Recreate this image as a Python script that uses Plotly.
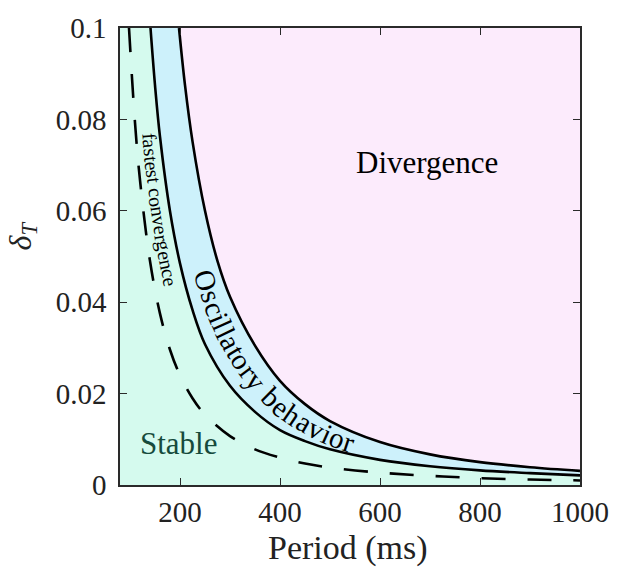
import numpy as np
import plotly.graph_objects as go

# ---------------- data ----------------
X_RANGE = [80, 1000]
Y_RANGE = [0, 0.1]
x_ticks = [200, 400, 600, 800, 1000]
y_ticks = [0, 0.02, 0.04, 0.06, 0.08, 0.1]
y_ticktext = ["0", "0.02", "0.04", "0.06", "0.08", "0.1"]

# fastest convergence (dashed)
period_fast = [98, 110, 120, 140, 160, 180, 200, 225, 250, 300, 350, 400, 450, 500, 600, 700, 800, 900, 1000]
delta_fast = [0.1, 0.0793, 0.0667, 0.049, 0.0375, 0.0296, 0.024, 0.019, 0.0154, 0.0107, 0.0078,
              0.006, 0.0047, 0.0038, 0.0027, 0.002, 0.0015, 0.0012, 0.001]

# stable / oscillatory boundary
period_osc = [141, 150, 160, 180, 200, 225, 250, 300, 350, 400, 450, 500, 600, 700, 800, 900, 1000]
delta_osc = [0.1, 0.0875, 0.0762, 0.0599, 0.0485, 0.0383, 0.0308, 0.0217, 0.016, 0.012, 0.0096,
             0.0078, 0.0055, 0.0041, 0.0032, 0.0026, 0.0021]

# oscillatory / divergence boundary
period_div = [198, 210, 225, 250, 275, 300, 350, 400, 450, 500, 600, 700, 800, 900, 1000]
delta_div = [0.1, 0.0875, 0.0752, 0.06, 0.049, 0.0412, 0.0305, 0.0228, 0.0177, 0.014, 0.0094,
             0.0067, 0.005, 0.0039, 0.0031]

# ---------------- layout geometry ----------------
W, H = 621, 569
ML, MR, MT, MB = 120, 36, 20, 84
PW, PH = W - ML - MR, H - MT - MB
FONT = "Liberation Serif, Times New Roman, serif"

C_STABLE = "#d5faee"
C_OSC = "#cdf1fb"
C_DIV = "#fcebfc"


def to_px(x, y):
    px = ML + (np.asarray(x) - X_RANGE[0]) / (X_RANGE[1] - X_RANGE[0]) * PW
    py = MT + (Y_RANGE[1] - np.asarray(y)) / (Y_RANGE[1] - Y_RANGE[0]) * PH
    return px, py


def to_data(px, py):
    x = X_RANGE[0] + (px - ML) / PW * (X_RANGE[1] - X_RANGE[0])
    y = Y_RANGE[1] - (py - MT) / PH * (Y_RANGE[1] - Y_RANGE[0])
    return x, y


def curve_at_x(xq, xs, ys):
    return np.exp(np.interp(np.log(xq), np.log(xs), np.log(ys)))


def curve_at_y(yq, xs, ys):
    lx = np.log(xs)[::-1]
    ly = np.log(ys)[::-1]
    return np.exp(np.interp(np.log(yq), ly, lx))


CW = {"f": .333, "a": .444, "s": .389, "t": .278, "e": .444, " ": .25, "c": .444, "o": .5,
      "n": .5, "v": .5, "r": .333, "g": .5, "O": .722, "i": .278, "l": .278, "y": .5,
      "b": .5, "h": .5}


def place_along(text, size, pxs, pys, s_start, color="black", spacing=1.0):
    d = np.hypot(np.diff(pxs), np.diff(pys))
    s = np.concatenate([[0], np.cumsum(d)])
    anns = []
    pos = s_start
    for ch in text:
        w = CW.get(ch, 0.5) * size * spacing
        c = pos + w / 2
        if ch != " ":
            cx, cy = np.interp(c, s, pxs), np.interp(c, s, pys)
            x1, y1 = np.interp(c + 3, s, pxs), np.interp(c + 3, s, pys)
            x0, y0 = np.interp(c - 3, s, pxs), np.interp(c - 3, s, pys)
            ang = float(np.degrees(np.arctan2(y1 - y0, x1 - x0)))
            xd, yd = to_data(cx, cy)
            anns.append(dict(x=float(xd), y=float(yd), xref="x", yref="y", text=ch,
                             textangle=ang, showarrow=False, xanchor="center",
                             yanchor="middle", font=dict(family=FONT, size=size, color=color)))
        pos += w
    return anns


fig = go.Figure()

# filled regions
fig.add_trace(go.Scatter(
    x=[X_RANGE[0]] + period_div + [X_RANGE[1], X_RANGE[0]],
    y=[Y_RANGE[1]] + delta_div + [Y_RANGE[0], Y_RANGE[0]],
    fill="toself", fillcolor=C_OSC, mode="none", hoverinfo="skip", showlegend=False))
fig.add_trace(go.Scatter(
    x=[X_RANGE[0]] + period_osc + [X_RANGE[1], X_RANGE[0]],
    y=[Y_RANGE[1]] + delta_osc + [Y_RANGE[0], Y_RANGE[0]],
    fill="toself", fillcolor=C_STABLE, mode="none", hoverinfo="skip", showlegend=False))

# boundary lines
for xs, ys, dash in [(period_div, delta_div, "solid"), (period_osc, delta_osc, "solid"),
                     (period_fast, delta_fast, "24px,22px")]:
    fig.add_trace(go.Scatter(x=xs, y=ys, mode="lines", line_shape="spline",
                             line=dict(color="black", width=2.6, dash=dash),
                             showlegend=False, hoverinfo="skip"))

annotations = []

# "Oscillatory behavior" along the band midline
xg = np.linspace(period_div[0], X_RANGE[1], 800)
ymid = 0.5 * (curve_at_x(xg, period_osc, delta_osc) + curve_at_x(xg, period_div, delta_div))
pxs, pys = to_px(xg, ymid)
d = np.hypot(np.diff(pxs), np.diff(pys))
s = np.concatenate([[0], np.cumsum(d)])
s0 = float(np.interp(204, pxs, s))
annotations += place_along("Oscillatory behavior", 29, pxs, pys, s0, spacing=1.03)

# "fastest convergence" between dashed and inner curves
yg = np.linspace(Y_RANGE[1], 0.01, 800)
xm = 0.45 * curve_at_y(yg, period_fast, delta_fast) + 0.55 * curve_at_y(yg, period_osc, delta_osc)
pxs2, pys2 = to_px(xm, yg)
d2 = np.hypot(np.diff(pxs2), np.diff(pys2))
s2 = np.concatenate([[0], np.cumsum(d2)])
s20 = float(np.interp(127, pys2, s2))
annotations += place_along("fastest convergence", 20, pxs2, pys2, s20)

div_x, div_y = to_data(430, 157)
annotations.append(dict(x=float(div_x), y=float(div_y), xref="x", yref="y", text="Divergence",
                        showarrow=False, xanchor="center", yanchor="middle",
                        font=dict(family=FONT, size=31, color="black")))
st_x, st_y = to_data(180, 443)
annotations.append(dict(x=float(st_x), y=float(st_y), xref="x", yref="y", text="Stable",
                        showarrow=False, xanchor="center", yanchor="middle",
                        font=dict(family=FONT, size=31, color="#164a3c")))
annotations.append(dict(x=(21 - ML) / PW, y=(H - 232 - MB) / PH, xref="paper", yref="paper",
                        text="<i>δ</i><sub><i>T</i></sub>", showarrow=False, textangle=-90,
                        xanchor="center", yanchor="middle",
                        font=dict(family=FONT, size=32, color="#222")))
annotations.append(dict(x=(350 - ML) / PW, y=(H - 549 - MB) / PH, xref="paper", yref="paper",
                        text="Period (ms)", showarrow=False, xanchor="center", yanchor="middle",
                        font=dict(family=FONT, size=34, color="#222")))

axis_common = dict(showline=True, linecolor="#2a2a2a", linewidth=1.5, mirror="ticks",
                   ticks="inside", ticklen=7, tickwidth=1.3, tickcolor="#2a2a2a",
                   showgrid=False, zeroline=False,
                   tickfont=dict(family=FONT, size=29, color="#222"))

fig.update_layout(
    width=W, height=H, margin=dict(l=ML, r=MR, t=MT, b=MB),
    paper_bgcolor="white", plot_bgcolor=C_DIV,
    xaxis=dict(range=X_RANGE, tickvals=x_ticks, ticklabelstandoff=0, **axis_common),
    yaxis=dict(range=Y_RANGE, tickvals=y_ticks, ticktext=y_ticktext, ticklabelstandoff=6,
               **axis_common),
    annotations=annotations,
)

fig.write_html("out.html")
